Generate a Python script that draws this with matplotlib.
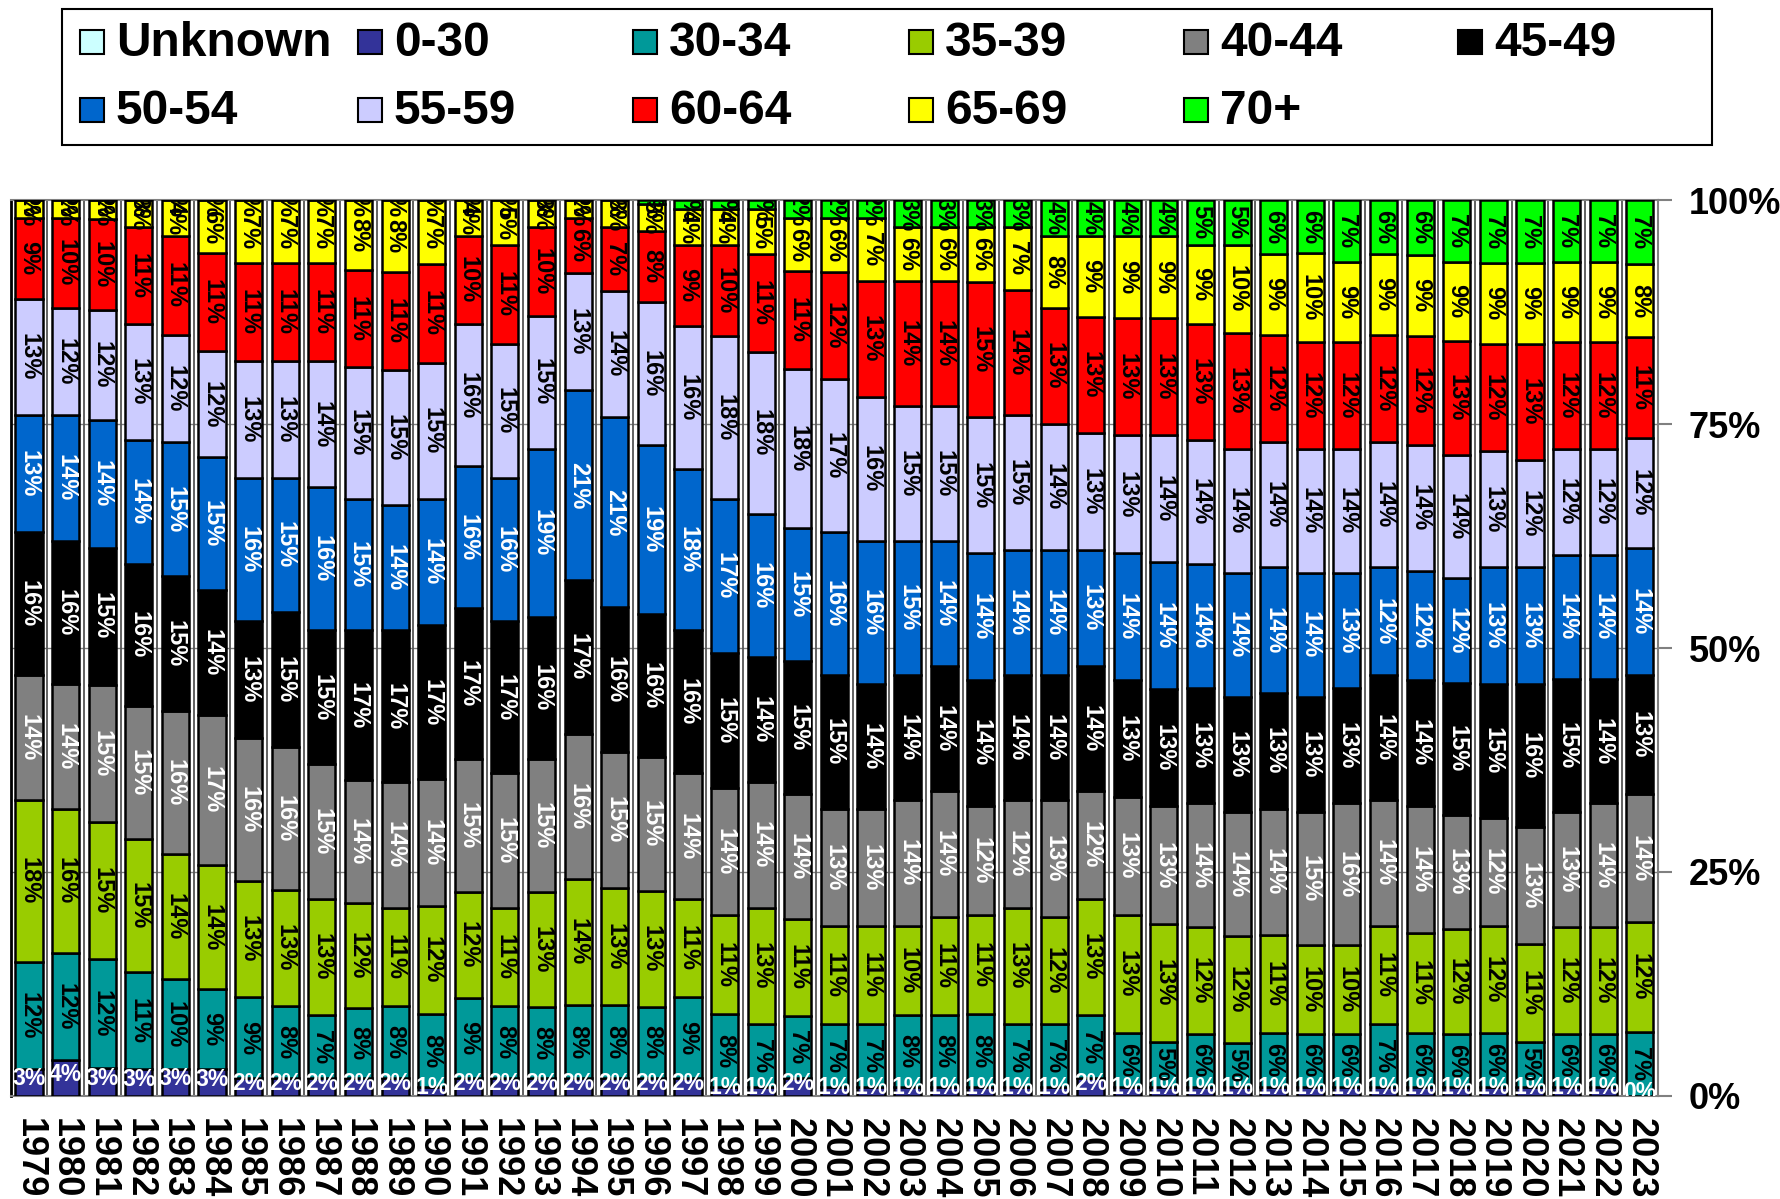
import matplotlib.pyplot as plt
import numpy as np
from matplotlib.patches import Rectangle

plt.rcParams['font.family'] = ['Liberation Sans', 'DejaVu Sans']
plt.rcParams['font.weight'] = 'bold'

years = list(range(1979, 2024))
series_names = ["Unknown", "0-30", "30-34", "35-39", "40-44", "45-49",
                "50-54", "55-59", "60-64", "65-69", "70+"]

# percent of total per year, 1979..2023
unknown = [0] * 45
age_0_30 = [3, 4, 3, 3, 3, 3, 2, 2, 2, 2, 2, 1, 2, 2, 2, 2, 2, 2, 2, 1, 1, 2, 1,
            1, 1, 1, 1, 1, 1, 2, 1, 1, 1, 1, 1, 1, 1, 1, 1, 1, 1, 1, 1, 1, 0]
age_30_34 = [12, 12, 12, 11, 10, 9, 9, 8, 7, 8, 8, 8, 9, 8, 8, 8, 8, 8, 9, 8, 7, 7, 7,
             7, 8, 8, 8, 7, 7, 7, 6, 5, 6, 5, 6, 6, 6, 7, 6, 6, 6, 5, 6, 6, 7]
age_35_39 = [18, 16, 15, 15, 14, 14, 13, 13, 13, 12, 11, 12, 12, 11, 13, 14, 13, 13, 11, 11, 13, 11, 11,
             11, 10, 11, 11, 13, 12, 13, 13, 13, 12, 12, 11, 10, 10, 11, 11, 12, 12, 11, 12, 12, 12]
age_40_44 = [14, 14, 15, 15, 16, 17, 16, 16, 15, 14, 14, 14, 15, 15, 15, 16, 15, 15, 14, 14, 14, 14, 13,
             13, 14, 14, 12, 12, 13, 12, 13, 13, 14, 14, 14, 15, 16, 14, 14, 13, 12, 13, 13, 14, 14]
age_45_49 = [16, 16, 15, 16, 15, 14, 13, 15, 15, 17, 17, 17, 17, 17, 16, 17, 16, 16, 16, 15, 14, 15, 15,
             14, 14, 14, 14, 14, 14, 14, 13, 13, 13, 13, 13, 13, 13, 14, 14, 15, 15, 16, 15, 14, 13]
age_50_54 = [13, 14, 14, 14, 15, 15, 16, 15, 16, 15, 14, 14, 16, 16, 19, 21, 21, 19, 18, 17, 16, 15, 16,
             16, 15, 14, 14, 14, 14, 13, 14, 14, 14, 14, 14, 14, 13, 12, 12, 12, 13, 13, 14, 14, 14]
age_55_59 = [13, 12, 12, 13, 12, 12, 13, 13, 14, 15, 15, 15, 16, 15, 15, 13, 14, 16, 16, 18, 18, 18, 17,
             16, 15, 15, 15, 15, 14, 13, 13, 14, 14, 14, 14, 14, 14, 14, 14, 14, 13, 12, 12, 12, 12]
age_60_64 = [9, 10, 10, 11, 11, 11, 11, 11, 11, 11, 11, 11, 10, 11, 10, 6, 7, 8, 9, 10, 11, 11, 12,
             13, 14, 14, 15, 14, 13, 13, 13, 13, 13, 13, 12, 12, 12, 12, 12, 13, 12, 13, 12, 12, 11]
age_65_69 = [2, 2, 2, 3, 4, 6, 7, 7, 7, 8, 8, 7, 4, 5, 3, 2, 3, 3, 4, 4, 5, 6, 6,
             7, 6, 6, 6, 7, 8, 9, 9, 9, 9, 10, 9, 10, 9, 9, 9, 9, 9, 9, 9, 9, 8]
age_70_plus = [0, 0, 0, 0, 0, 0, 0, 0, 0, 0, 0, 0, 0, 0, 0, 0, 0, 0.4, 1, 1, 1, 2, 2,
               2, 3, 3, 3, 3, 4, 4, 4, 4, 5, 5, 6, 6, 7, 6, 6, 7, 7, 7, 7, 7, 7]

series = [unknown, age_0_30, age_30_34, age_35_39, age_40_44, age_45_49,
          age_50_54, age_55_59, age_60_64, age_65_69, age_70_plus]
colors = ["#CCFFFF", "#333399", "#009999", "#99CC00", "#808080", "#000000",
          "#0066CC", "#CCCCFF", "#FF0000", "#FFFF00", "#00FF00"]
text_colors = ["black", "white", "black", "black", "white", "white",
               "white", "black", "black", "black", "black"]

data = np.array(series, dtype=float)
totals = data.sum(axis=0)
shares = data / totals * 100

W, H = 1781, 1199
fig = plt.figure(figsize=(W / 100, H / 100), dpi=100)
ax = fig.add_axes([0.006, 0.086, 0.925, 0.747])

x = np.arange(len(years))
bottom = np.zeros(len(years))
for k, (vals, share) in enumerate(zip(data, shares)):
    ax.bar(x, share, bottom=bottom, width=0.74, color=colors[k],
           edgecolor="black", linewidth=1.8, zorder=3)
    if k > 0:
        for i in range(len(years)):
            y = bottom[i] + share[i] / 2
            if k == 1:
                ax.text(x[i], y + 0.4, f"{vals[i]:.0f}%", ha="center", va="center",
                        fontsize=16.5, color=text_colors[k], zorder=5, clip_on=True)
            else:
                ax.text(x[i], y, f"{vals[i]:.0f}%", rotation=-90, ha="center",
                        va="center", fontsize=17, color=text_colors[k],
                        zorder=5, clip_on=True)
    bottom += share

for yy in [25, 50, 75]:
    ax.axhline(yy, color="#808080", lw=1, zorder=1)
for xx in x[:-1] + 0.5:
    ax.axvline(xx, color="#555555", lw=1.3, zorder=1)

ax.set_xlim(-0.5, len(years) - 0.5)
ax.set_ylim(0, 100)
ax.yaxis.tick_right()
ax.set_yticks([0, 25, 50, 75, 100])
ax.set_yticklabels(["0%", "25%", "50%", "75%", "100%"], fontsize=26, fontweight="bold")
ax.tick_params(axis="y", length=10, width=1.5, color="#808080", pad=12)
ax.set_xticks(x)
ax.set_xticklabels([str(y) for y in years], rotation=-90, fontsize=26, fontweight="bold")
ax.tick_params(axis="x", length=0, pad=16)

ax.spines["left"].set_color("black")
ax.spines["left"].set_linewidth(2)
for s in ["bottom", "right", "top"]:
    ax.spines[s].set_color("#808080")
    ax.spines[s].set_linewidth(1.5)

# legend box laid out in equal columns, like the original
fig.patches.append(Rectangle((62 / W, 1 - 145 / H), (1712 - 62) / W, 136 / H,
                             transform=fig.transFigure, facecolor="white",
                             edgecolor="black", linewidth=1.5, zorder=1))
col_x = [80, 358, 633, 909, 1184, 1458]
row_y = [42, 110]
msize = 24
for k, name in enumerate(series_names):
    r, c = divmod(k, 6)
    mx, my = col_x[c], row_y[r]
    fig.patches.append(Rectangle((mx / W, 1 - (my + msize / 2) / H), msize / W, msize / H,
                                 transform=fig.transFigure, facecolor=colors[k],
                                 edgecolor="black", linewidth=1.5, zorder=2))
    fig.text((mx + 36) / W, 1 - (my + 2) / H, name, fontsize=34.5, fontweight="bold",
             ha="left", va="center")

fig.savefig("out.png", dpi=100)
